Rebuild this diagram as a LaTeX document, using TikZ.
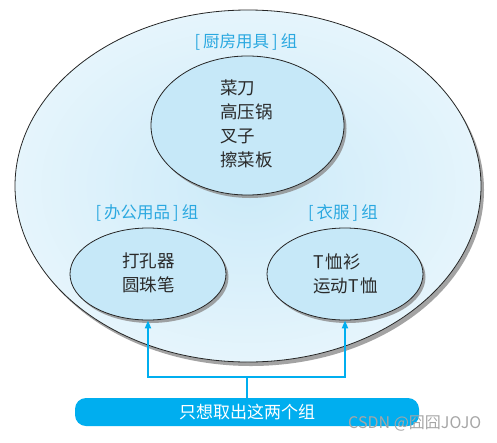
\documentclass[tikz,border=0pt]{standalone}
\usepackage{fontspec}
\setmainfont{Noto Sans CJK SC}
\usetikzlibrary{shapes.geometric,shadows,arrows.meta}
\definecolor{lblue}{HTML}{C6E8F8}
\definecolor{gblue}{HTML}{2AA8E0}
\definecolor{barblue}{HTML}{00AEEF}
\definecolor{txt}{HTML}{2A2A2A}
\tikzset{
  group/.style={ellipse, draw=black!85, line width=0.8pt, fill=lblue, inner sep=0pt,
    drop shadow={shadow xshift=2.5pt, shadow yshift=-3pt, fill=black!45, opacity=0.8}},
  glabel/.style={text=gblue, font=\fontsize{16.5}{18}\selectfont, inner sep=0pt},
  items/.style={text=txt, font=\fontsize{17.5}{24}\selectfont, align=left, inner sep=0pt},
  conn/.style={draw=barblue, line width=1.8pt},
  arr/.style={conn, -{Triangle[width=6pt,length=8pt]}}
}
\newcommand{\bsp}{\hspace{3pt}}
\begin{document}
\begin{tikzpicture}[x=1pt,y=-1pt]
\useasboundingbox (0,0) rectangle (497,442);
% outer ellipse
\node[ellipse, minimum width=466pt, minimum height=352pt, draw=black!85, line width=0.8pt,
  inner color=lblue!90!white, outer color=lblue!45!white, inner sep=0pt,
  drop shadow={shadow xshift=3pt, shadow yshift=-4pt, fill=black!45, opacity=0.8}] (all) at (248,186) {};
% inner groups
\node[group, minimum width=193pt, minimum height=139pt] (kit) at (247.5,125.5) {};
\node[group, minimum width=156pt, minimum height=92pt] (off) at (148,274) {};
\node[group, minimum width=156pt, minimum height=92pt] (clo) at (345,274) {};
% labels
\node[glabel] (kitl) at (246,42) {[\bsp 厨房用具\bsp]\bsp 组};
\node[glabel] (offl) at (147,213) {[\bsp 办公用品\bsp]\bsp 组};
\node[glabel] (clol) at (343,213) {[\bsp 衣服\bsp]\bsp 组};
% items
\node[items, anchor=north west] (kiti) at (220,80) {菜刀\\高压锅\\叉子\\擦菜板};
\node[items, anchor=north west] (offi) at (122,253) {打孔器\\圆珠笔};
\node[items, anchor=north west] (cloi) at (313,254) {T\hspace{2pt}恤衫\\运动T\hspace{2pt}恤};
% bar
\node[fill=barblue, rounded corners=11pt, minimum width=344pt, minimum height=28pt, inner sep=0pt,
  text=white, font=\fontsize{17}{18}\selectfont] (bar) at (247,412) {只想取出这两个组};
% connectors
\coordinate (j) at (247,377);
\draw[conn] (bar.north) -- (j);
\draw[arr] (j) -| (off.south);
\draw[arr] (j) -| (clo.south);
% watermark
\node[text=black!35, font=\fontsize{14}{16}\selectfont, anchor=west, inner sep=0pt] (wm) at (348,424) {\resizebox{133pt}{!}{CSDN @囧囧JOJO}};
\end{tikzpicture}
\end{document}
